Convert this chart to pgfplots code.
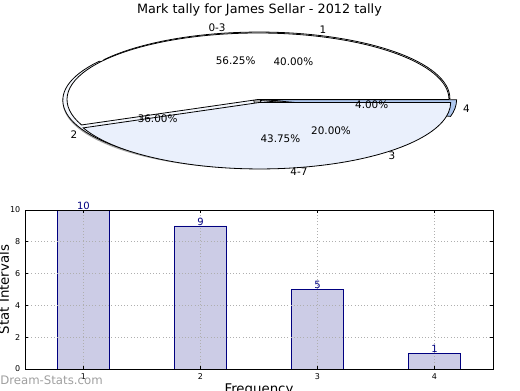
\documentclass[border=0pt]{standalone}
\usepackage{pgfplots}
\pgfplotsset{compat=1.18}
\usepackage{pgfplotstable}
\usepackage{fontspec}
\setmainfont{DejaVu Sans}
\definecolor{barfill}{HTML}{CCCCE6}
\definecolor{navyc}{HTML}{000080}
\definecolor{lightb}{HTML}{EAF0FC}
\definecolor{paleb}{HTML}{F4F7FD}
\definecolor{midb}{HTML}{AEC7EE}
\definecolor{gridc}{HTML}{AFAFAF}

\pgfplotstableread{
x y
1 10
2 9
3 5
4 1
}\bardata

% pie data (percent): A: 0-3 56.25, 4-7 43.75 ; B: 1 40, 2 36, 3 20, 4 4
\newcommand\rx{143.25pt}
\newcommand\ry{49.875pt}
% #1 start angle, #2 end angle, #3 explode, #4 fill
\newcommand\pieW[4]{%
  \filldraw[fill=#4,draw=black,line width=0.6pt]
    (axis cs:{#3*cos((#1+#2)/2)},{#3*sin((#1+#2)/2)}) --
    (axis cs:{#3*cos((#1+#2)/2)+cos(#1)},{#3*sin((#1+#2)/2)+sin(#1)})
    arc[start angle=#1,end angle=#2,x radius=\rx,y radius=\ry] -- cycle;}
\newcommand\pieL[3]{% start, end, text at 0.6
  \node[font=\fontsize{7.8}{9}\selectfont] at (axis cs:{0.6*cos((#1+#2)/2)},{0.6*sin((#1+#2)/2)}) {#3};}
\newcommand\pieO[3]{% start, end, text at 1.1
  \node[font=\fontsize{7.8}{9}\selectfont] at (axis cs:{1.1*cos((#1+#2)/2)},{1.1*sin((#1+#2)/2)}) {#3};}

\begin{document}
\begin{tikzpicture}
\useasboundingbox (0,0) rectangle (390pt,292.5pt);
\node[font=\fontsize{9.6}{11}\selectfont] at (194.6pt,285pt) {Mark tally for James Sellar - 2012 tally};

\begin{axis}[at={(193.5pt,217.875pt)}, anchor=center, hide axis, scale only axis,
  width=286.5pt, height=99.75pt, xmin=-1, xmax=1, ymin=-1, ymax=1, clip=false]
  % shadow
  \fill[gray!70] (axis cs:{-0.022+1},{-0.04}) arc[start angle=0,end angle=360,x radius=\rx,y radius=\ry];
  % pie B: 1, 2, 3, 4
  \pieW{0}{144}{0.015}{white}
  \pieW{144}{273.6}{0.025}{paleb}
  \pieW{273.6}{345.6}{0.02}{lightb}
  \pieW{345.6}{360}{0.04}{midb}
  % pie A: 0-3, 4-7
  \pieW{0}{202.5}{0}{white}
  \pieW{202.5}{360}{0.045}{lightb}
  % labels
  \pieL{0}{202.5}{56.25\%}
  \pieL{202.5}{360}{43.75\%}
  \pieL{0}{144}{40.00\%}
  \pieL{144}{273.6}{36.00\%}
  \pieL{273.6}{345.6}{20.00\%}
  \pieL{345.6}{360}{4.00\%}
  \pieO{0}{202.5}{0-3}
  \pieO{202.5}{360}{4-7}
  \pieO{0}{144}{1}
  \pieO{144}{273.6}{2}
  \pieO{273.6}{345.6}{3}
  \pieO{345.6}{360}{4}
\end{axis}

\begin{axis}[at={(18.75pt,15.75pt)}, anchor=south west, scale only axis,
  width=351pt, height=119.25pt,
  xmin=0.5, xmax=4.5, ymin=0, ymax=10,
  xtick={1,2,3,4}, ytick={0,2,4,6,8,10},
  /pgf/number format/assume math mode=true,
  grid=major, grid style={dotted, gridc, line width=0.7pt},
  axis on top,
  tick align=inside, major tick length=2.5pt,
  tick style={black, line width=0.5pt},
  axis line style={line width=0.7pt},
  tick label style={font=\fontsize{6}{7}\selectfont},
  label style={font=\fontsize{7.6}{9}\selectfont},
  xlabel={Frequency}, ylabel={Stat Intervals},
  every axis x label/.style={at={(axis description cs:0.5,-0.135)}, anchor=center},
  every axis y label/.style={at={(axis description cs:-0.045,0.5)}, rotate=90, anchor=center},
]
\addplot[ybar, bar width=0.45, fill=barfill, draw=navyc, line width=0.6pt,
  nodes near coords,
  nodes near coords style={font=\fontsize{7.5}{8}\selectfont, text=navyc, anchor=base, inner sep=0pt, yshift=0.6pt}]
  table[x=x,y=y]{\bardata};
\end{axis}

\node[anchor=west, text=gray!75, font=\fontsize{8.8}{10}\selectfont, inner sep=0pt] at (0pt,7.5pt) {Dream-Stats.com};
\end{tikzpicture}
\end{document}
